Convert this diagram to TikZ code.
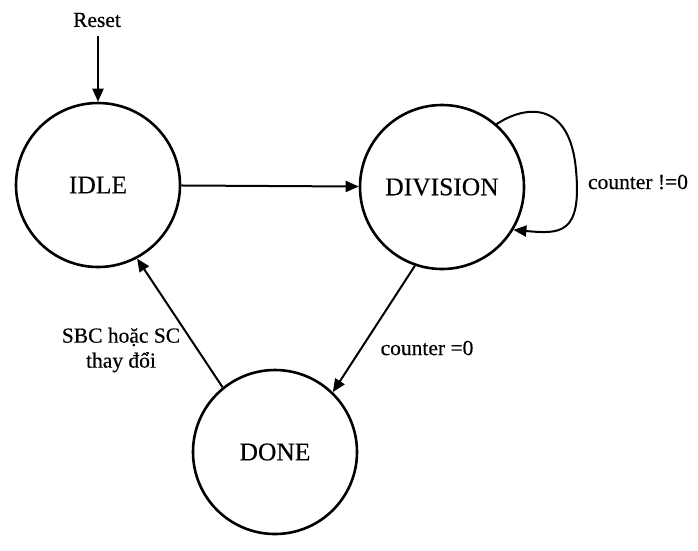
\documentclass[tikz,border=0pt]{standalone}
\usepackage{fontspec}
\setmainfont{Liberation Serif}[FakeBold=0.4]
\usetikzlibrary{arrows.meta}
\begin{document}
\begin{tikzpicture}[x=1pt,y=-1pt,
  state/.style={circle,draw,line width=2.6pt,minimum size=164pt,inner sep=0pt,
    font=\fontsize{25.5}{29}\selectfont},
  lbl/.style={font=\fontsize{21.5}{25}\selectfont,inner sep=0pt,align=center},
  tr/.style={line width=2pt,-{Triangle[length=13pt,width=11pt]}}]
\useasboundingbox (0,0) rectangle (698,550);
\node[state] (idle) at (98,185) {IDLE};
\node[state] (div) at (442,187) {DIVISION};
\node[state] (done) at (275,452) {DONE};
\node[lbl] (reset) at (97,20) {Reset};
\node[lbl] (lnz) at (638,182) {counter !=0};
\node[lbl] (lz) at (427,348) {counter =0};
\node[lbl] (lsbc) at (121,350) {SBC hoặc SC\\thay đổi};
\coordinate (rs) at (98,36);
\draw[tr] (rs) -- (idle.north);
\draw[tr] (idle) -- (div);
\draw[tr] (div.-109) -- (done.46);
\draw[tr] (done.129) -- (idle.-62);
\draw[tr] (div.49) .. controls (525,105) and (570,100) .. (576,170)
  .. controls (582,235) and (560,234) .. (div.-31);
\end{tikzpicture}
\end{document}
